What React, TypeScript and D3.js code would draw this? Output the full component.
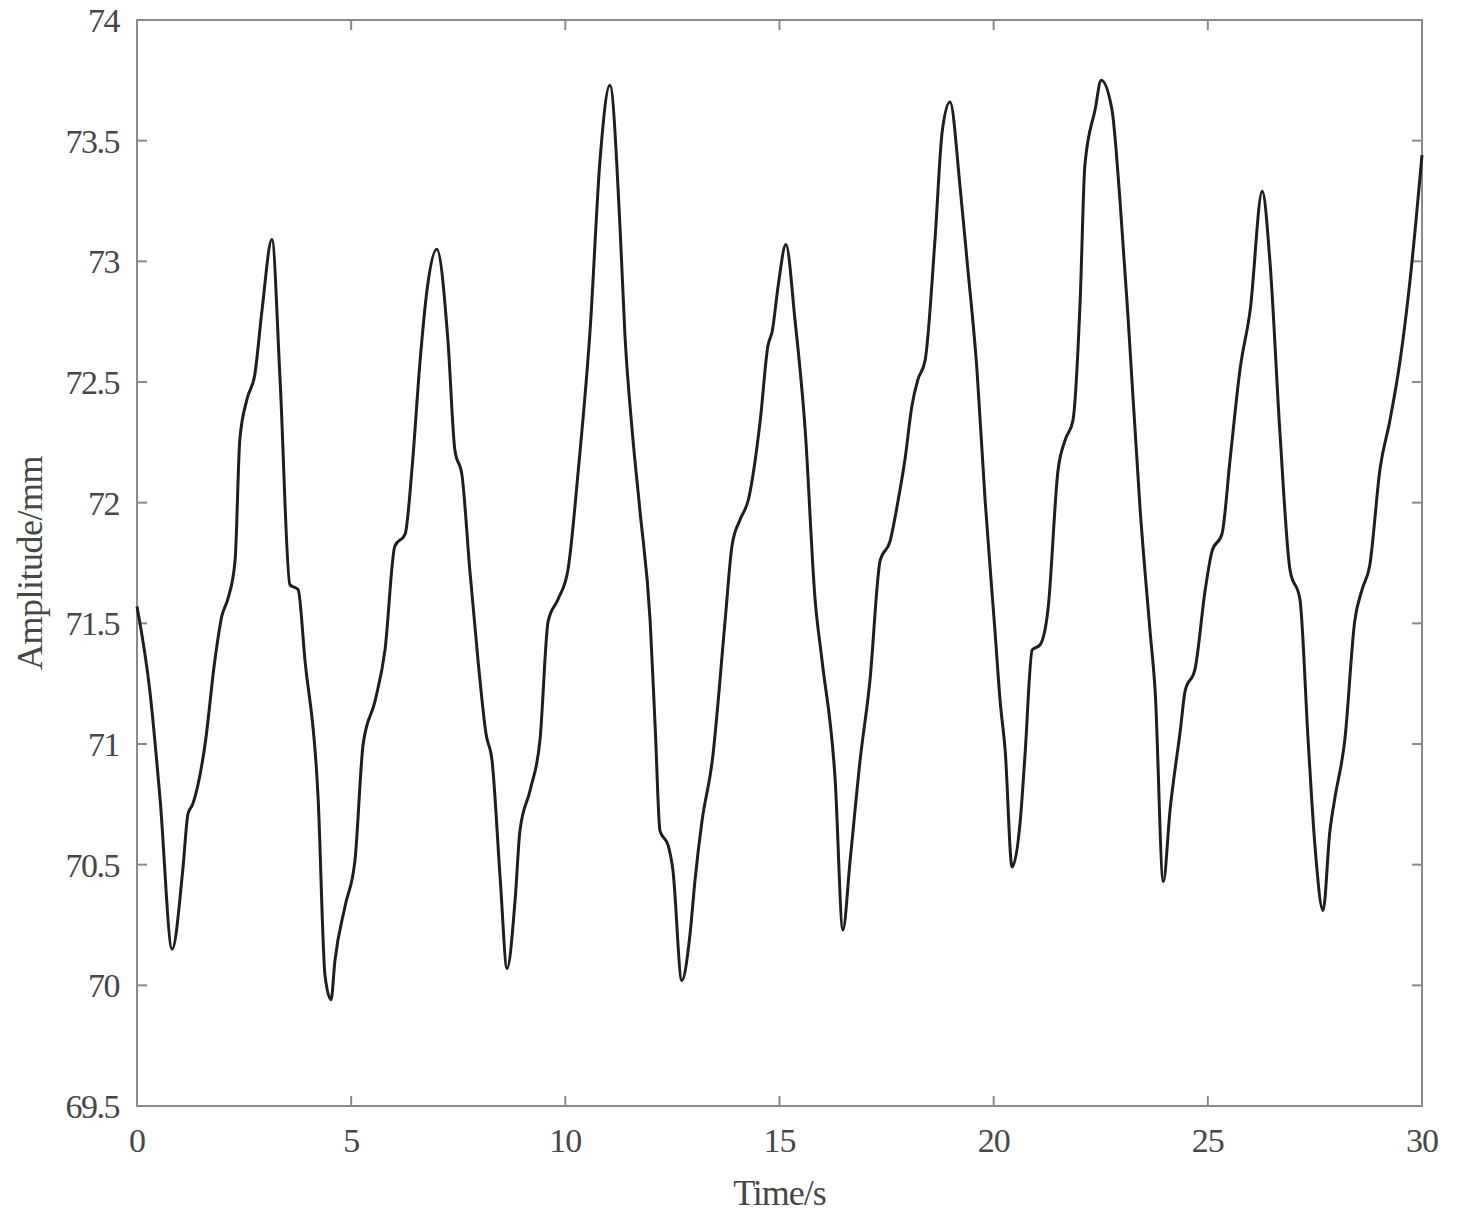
import React from "react";
import * as d3 from "d3";

const timeS: number[] = [
  0, 0.3, 0.54, 0.82, 1.07, 1.19, 1.3, 1.59, 1.82, 1.98, 2.12, 2.29, 2.4, 2.57, 2.75, 2.92, 3.15,
  3.34, 3.57, 3.76, 3.92, 4.23, 4.39, 4.53,
  4.62, 4.86, 5.09, 5.28, 5.56, 5.79, 6.02, 6.26, 6.42, 6.61, 6.77, 7.0,
  7.26, 7.42, 7.59, 7.77, 7.96, 8.15, 8.29, 8.48, 8.64,
  8.83, 8.94, 9.18, 9.41, 9.6, 9.83, 10.06, 10.3, 10.58, 10.81, 11.04,
  11.28, 11.39, 11.56, 11.74, 11.98, 12.1, 12.21, 12.4, 12.51, 12.72,
  12.91, 13.03, 13.19, 13.43, 13.73, 13.89, 14.08, 14.27, 14.55, 14.73, 14.83, 14.97, 15.15,
  15.36, 15.6, 15.83, 15.99, 16.3, 16.48,
  16.65, 16.88, 17.11, 17.35, 17.58, 17.77, 17.93, 18.09, 18.23, 18.4, 18.63, 18.8, 18.98,
  19.22, 19.38, 19.61, 19.8, 20.03, 20.15, 20.27, 20.43,
  20.62, 20.73, 20.9, 21.08, 21.27, 21.5, 21.67, 21.85, 22.02, 22.13, 22.37, 22.51,
  22.76, 22.95, 23.14, 23.42, 23.65, 23.77, 23.96,
  24.12, 24.36, 24.47, 24.7, 24.94, 25.1, 25.33, 25.52, 25.75, 25.99, 26.27,
  26.45, 26.68, 26.92, 27.15, 27.34, 27.5, 27.69,
  27.85, 27.96, 28.2, 28.43, 28.6, 28.78, 29.02, 29.25, 29.49, 29.72, 30.0,
];

const amplitudeMm: number[] = [
  71.57, 71.22, 70.77, 70.15, 70.48, 70.71, 70.75, 71.0, 71.35, 71.53, 71.6, 71.76, 72.26, 72.43, 72.53, 72.8, 73.09,
  72.51, 71.66, 71.64, 71.35, 70.77, 70.04, 69.94,
  70.1, 70.33, 70.52, 71.0, 71.18, 71.39, 71.82, 71.87, 72.14, 72.59, 72.88, 73.05,
  72.67, 72.22, 72.11, 71.72, 71.35, 71.04, 70.93, 70.44, 70.07,
  70.36, 70.64, 70.81, 71.02, 71.51, 71.6, 71.72, 72.13, 72.72, 73.42, 73.73,
  73.13, 72.7, 72.3, 71.97, 71.51, 71.06, 70.64, 70.58, 70.48, 70.02,
  70.21, 70.44, 70.68, 70.93, 71.51, 71.82, 71.93, 72.01, 72.34, 72.65, 72.71, 72.9, 73.07,
  72.76, 72.3, 71.6, 71.35, 70.85, 70.23,
  70.52, 70.93, 71.26, 71.76, 71.84, 72.01, 72.18, 72.4, 72.51, 72.59, 73.09, 73.54, 73.66,
  73.3, 73.0, 72.55, 72.01, 71.47, 71.18, 70.97, 70.49,
  70.68, 70.95, 71.39, 71.41, 71.56, 72.13, 72.26, 72.34, 72.84, 73.4, 73.63, 73.75,
  73.63, 73.25, 72.76, 71.97, 71.47, 71.22, 70.43,
  70.73, 71.06, 71.22, 71.31, 71.64, 71.8, 71.87, 72.18, 72.55, 72.8, 73.29,
  73.0, 72.3, 71.72, 71.6, 71.02, 70.58, 70.31,
  70.64, 70.77, 71.02, 71.51, 71.64, 71.74, 72.14, 72.34, 72.59, 72.92, 73.44,
];

const xTicks: number[] = [0, 5, 10, 15, 20, 25, 30];
const yTicks: number[] = [69.5, 70, 70.5, 71, 71.5, 72, 72.5, 73, 73.5, 74];
const xLabel = "Time/s";
const yLabel = "Amplitude/mm";

const W = 1463;
const H = 1228;
const left = 137;
const right = 1422;
const top = 20;
const bottom = 1106;

export default function App() {
  const x = d3.scaleLinear().domain([0, 30]).range([left, right]);
  const y = d3.scaleLinear().domain([69.5, 74]).range([bottom, top]);
  const pts: [number, number][] = timeS.map((t, i) => [t, amplitudeMm[i]]);
  const line = d3
    .line<[number, number]>()
    .x((d) => x(d[0]))
    .y((d) => y(d[1]))
    .curve(d3.curveMonotoneX);

  const axisColor = "#8a8a8a";
  const textColor = "#474747";
  const tickLen = 10;
  const font = "'Liberation Serif', 'Times New Roman', serif";

  return (
    <svg
      width={W}
      height={H}
      style={{ position: "absolute", left: 0, top: 0, display: "block", background: "#fff" }}
    >
      <rect x={0} y={0} width={W} height={H} fill="#fff" />
      {xTicks.map((t) => (
        <g key={"xt" + t}>
          <line x1={x(t)} x2={x(t)} y1={bottom} y2={bottom - tickLen} stroke={axisColor} strokeWidth={2} />
          <line x1={x(t)} x2={x(t)} y1={top} y2={top + tickLen} stroke={axisColor} strokeWidth={2} />
          <text
            x={x(t)}
            y={bottom + 46}
            textAnchor="middle"
            fontFamily={font}
            fontSize={34}
            fill={textColor}
            letterSpacing={-1}
          >
            {t}
          </text>
        </g>
      ))}
      {yTicks.map((t) => (
        <g key={"yt" + t}>
          <line x1={left} x2={left + tickLen} y1={y(t)} y2={y(t)} stroke={axisColor} strokeWidth={2} />
          <line x1={right} x2={right - tickLen} y1={y(t)} y2={y(t)} stroke={axisColor} strokeWidth={2} />
          <text
            x={left - 18}
            y={y(t) + 12}
            textAnchor="end"
            fontFamily={font}
            fontSize={34}
            fill={textColor}
            letterSpacing={-1.5}
          >
            {t}
          </text>
        </g>
      ))}
      <rect
        x={left}
        y={top}
        width={right - left}
        height={bottom - top}
        fill="none"
        stroke={axisColor}
        strokeWidth={2}
      />
      <path d={line(pts) ?? ""} fill="none" stroke="#1e1e1e" strokeWidth={3} strokeLinejoin="round" />
      <text
        x={(left + right) / 2}
        y={1205}
        textAnchor="middle"
        fontFamily={font}
        fontSize={36}
        fill={textColor}
        letterSpacing={-1}
      >
        {xLabel}
      </text>
      <text
        transform={`translate(42, ${(top + bottom) / 2}) rotate(-90)`}
        textAnchor="middle"
        fontFamily={font}
        fontSize={36}
        fill={textColor}
        letterSpacing={-0.5}
      >
        {yLabel}
      </text>
    </svg>
  );
}
